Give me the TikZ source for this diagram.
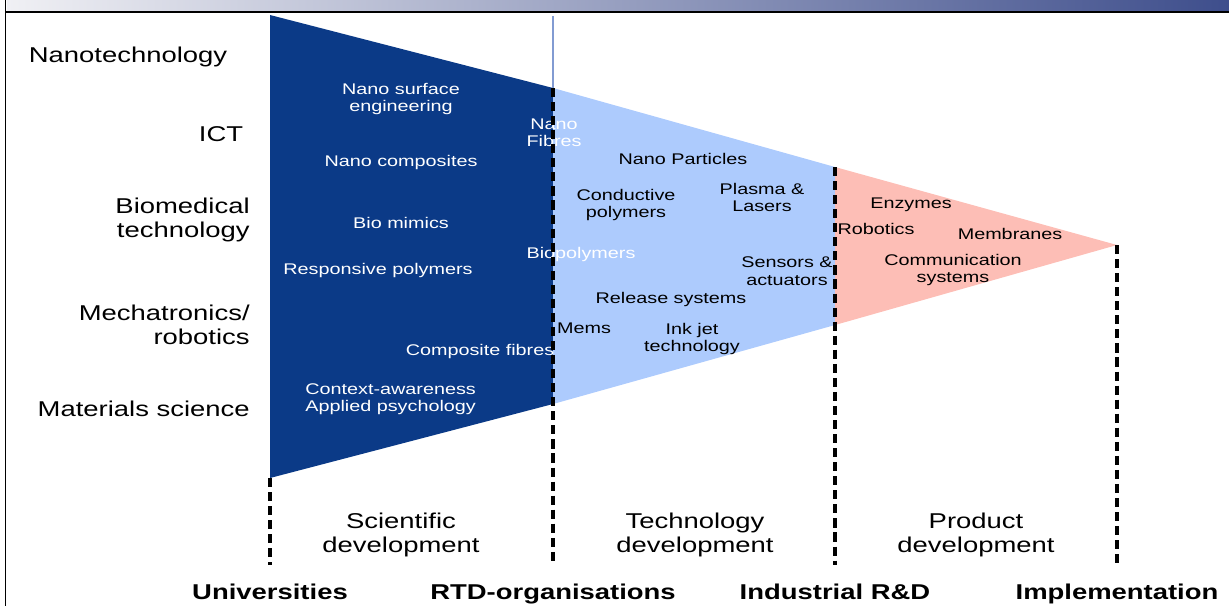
\documentclass[tikz,border=0pt]{standalone}
\usepackage{fontspec}
\setmainfont{Liberation Sans}[FakeStretch=1.28]
\usetikzlibrary{positioning}

\definecolor{sciblue}{RGB}{11,58,135}
\definecolor{techblue}{RGB}{173,203,253}
\definecolor{prodpink}{RGB}{253,190,182}
\definecolor{bandlight}{RGB}{240,240,244}
\definecolor{bandmid}{RGB}{185,187,210}
\definecolor{banddark}{RGB}{62,78,140}
\definecolor{guide}{RGB}{130,155,210}

\tikzset{
    big/.style={font=\fontsize{12.2}{13.7}\selectfont, align=center, inner sep=0pt, yshift=-1.5pt},
    small/.style={font=\fontsize{8.8}{9.8}\selectfont, align=center, inner sep=0pt, yshift=-1.2pt},
    border/.style={dash pattern=on 5.2pt off 2.8pt, line width=1.9pt},
}

\begin{document}
\begin{tikzpicture}[line join=round, x=0.02cm, y=-0.02cm]
                \useasboundingbox (0,0) rectangle (1229,606);
                % frame
                \shade[left color=bandlight, middle color=bandmid, right color=banddark] (7,0) rectangle (1229,11);
                \draw[line width=1.2pt] (5,12) -- (1229,12);
                \draw[line width=0.9pt] (5.5,0) -- (5.5,606);
                % the funnel
                \coordinate (a) at (270,15);
                \coordinate (b) at (553,88);
                \coordinate (c) at (835,167);
                \coordinate (d) at (1117,245);
                \coordinate (e) at (835,325);
                \coordinate (f) at (553,404);
                \coordinate (g) at (270,478);
                \fill[sciblue] (a) -- (b) -- (f) -- (g) -- cycle;
                \fill[techblue] (b) -- (c) -- (e) -- (f) -- cycle;
                \fill[prodpink] (c) -- (d) -- (e) -- cycle;
                \coordinate (btop) at (553,16);
                \draw[guide, line width=0.6pt] (btop) -- (b);
                % fields
                \node[big] (nanotech) at (128,54) {Nanotechnology};
                \node[big] (ict) at (221,131) {ICT};
                \node[big, align=right, anchor=east] (biomed) at (250,217) {Biomedical\\technology};
                \node[big, align=right, anchor=east] (mecha) at (250,322) {Mechatronics/\\robotics};
                \node[big, anchor=east] (materials) at (250,406) {Materials science};
                % scientific development
                \node[small, white] (surface) at (401,97) {Nano surface\\engineering};
                \node[small, white] (nanocomp) at (401,160) {Nano composites};
                \node[small, white] (mimics) at (401,221) {Bio mimics};
                \node[small, white] (responsive) at (378,268) {Responsive polymers};
                \node[small, white] (compfib) at (480,349) {Composite fibres};
                \node[small, white, align=left, anchor=west] (context) at (305,397) {Context-awareness\\Applied psychology};
                \node[small, white] (nanofib) at (554,131) {Nano\\Fibres};
                \node[small, white] (biopol) at (581,252) {Biopolymers};
                % technology development
                \node[small] (particles) at (683,157) {Nano Particles};
                \node[small] (conductive) at (626,203) {Conductive\\polymers};
                \node[small] (plasma) at (762,195) {Plasma \&\\Lasers};
                \node[small] (sensors) at (787,269) {Sensors \&\\actuators};
                \node[small] (release) at (671,297) {Release systems};
                \node[small] (mems) at (584,326) {Mems};
                \node[small] (inkjet) at (692,337) {Ink jet\\technology};
                % product development
                \node[small] (enzymes) at (911,203) {Enzymes};
                \node[small] (robotics) at (876,227) {Robotics};
                \node[small] (membranes) at (1010,232) {Membranes};
                \node[small] (commsys) at (953,268) {Communication\\systems};
                % phases and actors
                \foreach \x/\top/\name/\actor in {270/478/univ/Universities, 553/88/rtd/RTD-organisations, 835/167/indus/Industrial R\&D, 1117/245/impl/Implementation}{
                    \coordinate (\name top) at (\x,\top);
                    \coordinate (\name bot) at (\x,565);
                    \draw[border] (\name top) -- (\name bot);
                    \node[font=\fontsize{12.2}{13.7}\selectfont\bfseries, inner sep=0pt, anchor=base] (\name) at (\x,599) {\actor};
                }
                \node[big] (scidev) at (401,532) {Scientific\\development};
                \node[big] (techdev) at (695,532) {Technology\\development};
                \node[big] (proddev) at (976,532) {Product\\development};
            \end{tikzpicture}
\end{document}
